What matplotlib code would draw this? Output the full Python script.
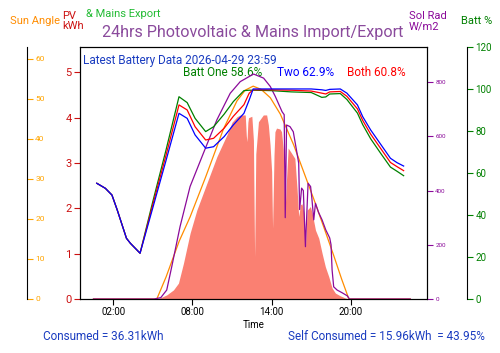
import matplotlib
matplotlib.use("Agg")
import matplotlib.pyplot as plt
from matplotlib.ticker import FuncFormatter

plt.rcParams['font.family'] = ['Roboto', 'DejaVu Sans']

# PV generation (kWh)
pv_hours = [0.5, 5.2, 5.6, 6.05, 6.56, 6.94, 7.32, 7.82, 8.33, 9.09, 9.85, 10.61, 11.0,
            11.37, 11.62, 12.0, 12.08, 12.13, 12.2, 12.25, 12.5, 12.62, 12.71, 12.8,
            13.0, 13.37, 13.62, 13.75, 13.88, 14.0, 14.07, 14.18, 14.25, 14.37, 14.63,
            14.75, 14.88, 15.0, 15.1, 15.25, 15.5, 15.76, 15.93, 16.05, 16.18, 16.3,
            16.45, 16.56, 16.69, 16.94, 17.1, 17.32, 17.57, 17.82, 18.07, 18.33, 18.58,
            18.83, 19.2, 19.6, 19.9, 24.5]
pv_kwh = [0, 0, 0.03, 0.09, 0.2, 0.35, 0.79, 1.45, 1.96, 2.55, 3.14, 3.62, 3.9,
          4.02, 4.06, 4.06, 3.6, 3.47, 3.9, 4.0, 4.03, 3.5, 0.93, 3.2,
          3.91, 4.06, 4.06, 3.84, 3.4, 2.81, 1.56, 3.18, 3.69, 3.77, 3.75,
          3.69, 3.3, 1.78, 2.5, 3.33, 3.22, 3.1, 2.41, 1.82, 2.08, 2.1,
          1.9, 1.15, 1.96, 2.04, 1.85, 1.52, 1.34, 1.01, 0.71, 0.49, 0.24,
          0.13, 0.07, 0.02, 0, 0]

# sun elevation (degrees)
sun_hours = [0.5, 5.3, 6.0, 7.0, 7.82, 9.0, 10.35, 11.37, 12.0, 12.6, 13.2, 13.9,
             14.66, 15.67, 17.19, 18.0, 18.73, 19.3, 19.85, 24.5]
sun_angle = [0, 0, 5.5, 14.5, 20.5, 30.5, 42.5, 49.5, 52.2, 53.2, 52.4, 50.3,
             46.2, 38.5, 25.0, 17.5, 10.6, 5.0, 0, 0]

# solar radiation (W/m2)
rad_hours = [0.5, 5.1, 5.6, 6.05, 6.43, 7.06, 7.82, 8.83, 9.85, 10.86, 11.62, 12.63,
             13.39, 13.9, 14.28, 14.79, 14.95, 15.03, 15.13, 15.39, 15.64, 15.9,
             16.05, 16.12, 16.27, 16.4, 16.56, 16.76, 16.95, 17.05, 17.19, 17.32,
             17.55, 17.82, 18.1, 18.4, 18.5, 18.58, 18.7, 18.96, 19.34, 19.72, 19.9, 24.5]
rad_wm2 = [0, 0, 5, 33, 119, 267, 415, 538, 661, 759, 802, 830,
           815, 784, 747, 691, 680, 300, 642, 636, 617, 544,
           501, 330, 409, 400, 193, 427, 415, 370, 292, 353,
           320, 292, 255, 225, 200, 107, 45, 33, 23, 12, 0, 0]

# battery state of charge (%)
batt_hours = [0.75, 1.4, 1.9, 2.3, 3.0, 3.3, 4.03, 5.0, 6.0, 6.98, 7.6, 8.2, 9.0, 9.6,
              10.4, 11.1, 11.9, 12.3, 12.6, 14.0, 15.5, 17.0, 17.8, 18.1, 18.4, 19.2,
              19.7, 20.5, 20.9, 21.5, 22.3, 23.0, 23.5, 24.0]
batt_two = [55.1, 52.7, 49.5, 42.4, 28.9, 26.5, 21.8, 43.5, 66.0, 88.4, 86.0, 78.1, 71.8,
            72.5, 77.3, 82.9, 88.4, 94.8, 100, 100, 100, 100, 99.6, 99.3, 99.8, 100,
            98.0, 92.4, 86.8, 80.5, 73.3, 67.0, 64.9, 63.3]
batt_both = [55.1, 52.7, 49.5, 42.4, 28.9, 26.5, 21.8, 45.0, 68.5, 92.4, 90.0, 82.0, 75.7,
             76.5, 81.3, 87.0, 92.5, 98.0, 99.6, 99.6, 99.4, 99.0, 98.0, 97.6, 98.6, 98.8,
             96.5, 90.5, 85.0, 78.5, 71.3, 65.0, 63.0, 61.1]
batt_one = [55.1, 52.7, 49.5, 42.4, 28.9, 26.5, 21.8, 46.5, 71.0, 96.3, 93.5, 86.0, 79.7,
            82.0, 88.0, 94.0, 99.2, 99.4, 99.4, 99.2, 98.6, 98.3, 96.0, 96.2, 97.6, 97.8,
            95.0, 88.5, 83.0, 76.3, 69.0, 62.8, 60.8, 58.7]

hour_ticks = [2, 8, 14, 20]

fig = plt.figure(figsize=(5, 3.53), dpi=100)
ax = fig.add_axes([0.16, 0.153, 0.694, 0.714])

# PV area on the main (left, red) axis
ax.fill_between(pv_hours, pv_kwh, color='salmon', linewidth=0)
ax.set_xlim(-0.52, 25.77)
ax.set_ylim(0, 5.56)
ax.set_xticks(hour_ticks)
ax.xaxis.set_major_formatter(FuncFormatter(lambda v, p: f"{int(v):02d}:00"))
ax.tick_params(axis='x', labelsize=7, length=4, pad=2)
ax.tick_params(axis='y', colors='#cc1111', labelsize=8, length=4, pad=2)
ax.set_xlabel('Time', fontsize=7, labelpad=2)

# sun angle axis, far left
ax_sun = ax.twinx()
ax_sun.plot(sun_hours, sun_angle, color='darkorange', linewidth=0.9)
ax_sun.spines['right'].set_position(('axes', -0.153))
ax_sun.set_ylim(0, 63)
ax_sun.set_yticks(range(0, 61, 10))
ax_sun.tick_params(axis='y', colors='orange', labelsize=6, length=4, pad=2)
for s in ['left', 'top', 'bottom']:
    ax_sun.spines[s].set_visible(False)
ax_sun.spines['right'].set_color('black')

# solar radiation axis
ax_sol = ax.twinx()
ax_sol.plot(rad_hours, rad_wm2, color='#8b0a9a', linewidth=0.9)
ax_sol.set_ylim(0, 930)
ax_sol.set_yticks(range(0, 801, 200))
ax_sol.tick_params(axis='y', colors='#8b0a9a', labelsize=4.5, length=4, pad=2)
ax_sol.spines['right'].set_color('black')

# battery axis, far right
ax_batt = ax.twinx()
ax_batt.plot(batt_hours, batt_one, color='green', linewidth=0.9)
ax_batt.plot(batt_hours, batt_both, color='red', linewidth=0.9)
ax_batt.plot(batt_hours, batt_two, color='blue', linewidth=0.9)
ax_batt.spines['right'].set_position(('axes', 1.115))
ax_batt.set_ylim(0, 120)
ax_batt.set_yticks(range(0, 121, 20))
ax_batt.tick_params(axis='y', colors='green', labelsize=7, length=4, pad=2)
for s in ['left', 'top', 'bottom']:
    ax_batt.spines[s].set_visible(False)
ax_batt.spines['right'].set_color('black')

# header texts
fig.text(0.506, 1 - 33 / 353, '24hrs Photovoltaic & Mains Import/Export',
         color='#8a4a9c', fontsize=11.6, ha='center', va='center')
fig.text(10 / 500, 1 - 21 / 353, 'Sun Angle', color='darkorange', fontsize=8, va='center')
fig.text(62 / 500, 1 - 21 / 353, 'PV\nkWh', color='#cc1111', fontsize=8, va='center',
         linespacing=1.0)
fig.text(86 / 500, 1 - 14 / 353, '& Mains Export', color='#22bb33', fontsize=8, va='center')
fig.text(409 / 500, 1 - 21 / 353, 'Sol Rad\nW/m2', color='#8b0a9a', fontsize=8, va='center',
         linespacing=1.0)
fig.text(461 / 500, 1 - 21 / 353, 'Batt %', color='green', fontsize=8, va='center')

ax.text(0.009, 0.948, 'Latest Battery Data 2026-04-29 23:59', transform=ax.transAxes,
        color='#1a3cc0', fontsize=8.5, va='center')
ax.text(0.297, 0.90, 'Batt One 58.6%', transform=ax.transAxes, color='green',
        fontsize=8.5, va='center')
ax.text(0.568, 0.90, 'Two 62.9%', transform=ax.transAxes, color='blue',
        fontsize=8.5, va='center')
ax.text(0.769, 0.90, 'Both 60.8%', transform=ax.transAxes, color='red',
        fontsize=8.5, va='center')

# footer texts
fig.text(43 / 500, 1 - 336 / 353, 'Consumed = 36.31kWh', color='#1a3cc0', fontsize=8.5,
         va='center')
fig.text(288 / 500, 1 - 336 / 353, 'Self Consumed = 15.96kWh  = 43.95%', color='#1a3cc0',
         fontsize=8.5, va='center')

fig.savefig('out.png', dpi=100)
